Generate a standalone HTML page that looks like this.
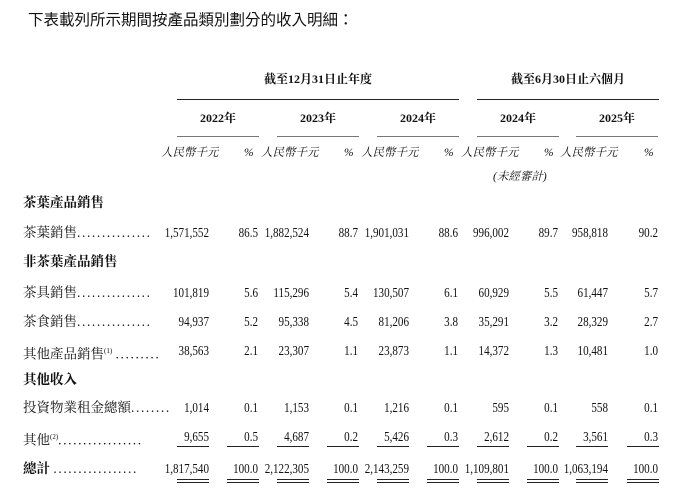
<!DOCTYPE html>
<html><head><meta charset="utf-8"><style>
body{margin:0;width:689px;height:502px;background:#fff;position:relative;overflow:hidden;font-family:"Liberation Serif","Noto Serif CJK SC","Noto Sans CJK TC",serif;color:#111}
.t{position:absolute;white-space:nowrap;font-size:13.5px;line-height:14px}
.n{transform:scaleX(0.82);transform-origin:right center;text-align:right}
.c{text-align:center}
.b{font-weight:bold}
.i{font-style:italic;font-size:11.5px}
.l{position:absolute;height:1px;background:#222}
.d{letter-spacing:1.6px}
</style></head><body>
<div class="t" style="left:28px;top:10px;font-size:15.5px;line-height:18px;font-family:'Noto Sans CJK TC',sans-serif">下表載列所示期間按產品類別劃分的收入明細：</div>
<div class="t b c" style="left:177px;width:282px;top:72px;font-size:12px">截至12月31日止年度</div>
<div class="t b c" style="left:477px;width:182px;top:72px;font-size:12px">截至6月30日止六個月</div>
<div class="l" style="left:177px;width:282px;top:99px"></div>
<div class="l" style="left:477px;width:182px;top:99px"></div>
<div id="hd"></div>
<script>
var A=[209,309,409,509,608],P=[258,358,458,558,658],yrs=['2022年','2023年','2024年','2024年','2025年'];
var h='';
for(var k=0;k<5;k++){
var S=A[k]-32;
h+='<div class="t b c" style="left:'+S+'px;width:82px;top:111px;font-size:12px">'+yrs[k]+'</div>';
h+='<div class="l" style="left:'+S+'px;width:82px;top:136px;background:#777"></div>';
h+='<div class="t i" style="left:'+(A[k]-48)+'px;top:146px">人民幣千元</div>';
h+='<div class="t i" style="left:'+(P[k]-14)+'px;top:146px">%</div>';
}
h+='<div class="t i" style="left:493px;top:170px">(未經審計)</div>';
var rows=[
[196,'茶葉產品銷售',1],
[226,'茶葉銷售<span class="d">...............</span>',0,['1,571,552','86.5','1,882,524','88.7','1,901,031','88.6','996,002','89.7','958,818','90.2']],
[255,'非茶葉產品銷售',1],
[286,'茶具銷售<span class="d">...............</span>',0,['101,819','5.6','115,296','5.4','130,507','6.1','60,929','5.5','61,447','5.7']],
[315,'茶食銷售<span class="d">...............</span>',0,['94,937','5.2','95,338','4.5','81,206','3.8','35,291','3.2','28,329','2.7']],
[344,'其他產品銷售<sup style="font-size:7px">(1)</sup> <span class="d">.........</span>',0,['38,563','2.1','23,307','1.1','23,873','1.1','14,372','1.3','10,481','1.0']],
[373,'其他收入',1],
[401,'投資物業租金總額<span class="d">........</span>',0,['1,014','0.1','1,153','0.1','1,216','0.1','595','0.1','558','0.1']],
[430,'其他<sup style="font-size:7px">(2)</sup><span class="d">.................</span>',0,['9,655','0.5','4,687','0.2','5,426','0.3','2,612','0.2','3,561','0.3']],
[462,'<b>總計</b> <span class="d">.................</span>',0,['1,817,540','100.0','2,122,305','100.0','2,143,259','100.0','1,109,801','100.0','1,063,194','100.0']]
];
rows.forEach(function(r){
h+='<div class="t'+(r[2]?' b':'')+'" style="left:23px;top:'+r[0]+'px">'+r[1]+'</div>';
if(r[3])for(var k=0;k<5;k++){
h+='<div class="t n" style="left:'+(A[k]-90)+'px;width:90px;top:'+r[0]+'px">'+r[3][2*k]+'</div>';
h+='<div class="t n" style="left:'+(P[k]-50)+'px;width:50px;top:'+r[0]+'px">'+r[3][2*k+1]+'</div>';
}});
for(var k=0;k<5;k++){
[A[k]-32,P[k]-31].forEach(function(x){
h+='<div class="l" style="left:'+x+'px;width:32px;top:446px"></div>';
h+='<div class="l" style="left:'+x+'px;width:32px;top:479px"></div>';
h+='<div class="l" style="left:'+x+'px;width:32px;top:482px"></div>';
});}
document.getElementById('hd').innerHTML=h;
</script>
</body></html>
